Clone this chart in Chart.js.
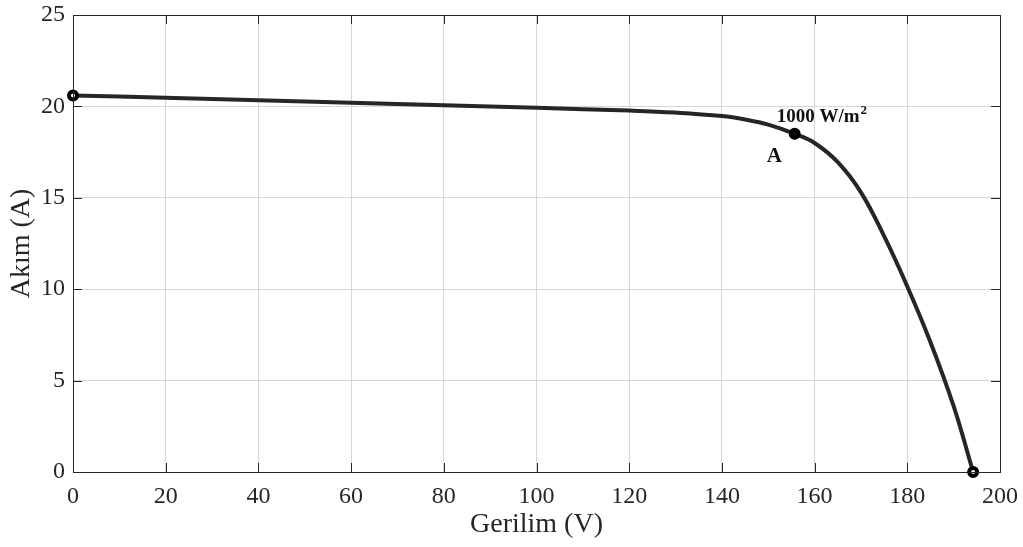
<!DOCTYPE html>
<html>
<head>
<meta charset="utf-8">
<script src="https://cdn.jsdelivr.net/npm/chart.js@4.4.1/dist/chart.umd.min.js"></script>
<style>
  html, body { margin: 0; padding: 0; background: #fff; }
  #wrap { width: 1023px; height: 547px; }
</style>
</head>
<body>
<div id="wrap"><canvas id="c" width="1023" height="547"></canvas></div>
<script>
// Data (Gerilim V, Akım A)
const voltage = [0, 20, 40, 60, 80, 100, 120, 130, 140, 145, 150, 155.7, 160, 165, 170, 175, 180, 185, 190, 194.2];
const current = [20.6, 20.47, 20.33, 20.2, 20.06, 19.92, 19.77, 19.66, 19.47, 19.28, 19.0, 18.5, 18.0, 16.95, 15.3, 12.9, 10.15, 7.1, 3.6, 0];
const markerV = [0, 155.7, 194.2];
const markerI = [20.6, 18.5, 0];
const markerFill = ['#ffffff', '#111111', '#ffffff'];
const xTicks = [0, 20, 40, 60, 80, 100, 120, 140, 160, 180, 200];
const yTicks = [0, 5, 10, 15, 20, 25];
const xTitle = 'Gerilim (V)';
const yTitle = 'Akım (A)';
const labelA = 'A';
const labelIrr = '1000 W/m';

const serif = '"Liberation Serif", "Times New Roman", serif';
const ink = '#262626';

const frame = {
  id: 'frame',
  afterDatasetsDraw(chart) {
    const { ctx, chartArea: a, scales } = chart;
    ctx.save();
    ctx.strokeStyle = ink;
    ctx.lineWidth = 1;
    ctx.strokeRect(Math.round(a.left) + 0.5, Math.round(a.top) + 0.5, Math.round(a.right - a.left), Math.round(a.bottom - a.top));
    ctx.beginPath();
    xTicks.forEach(v => {
      const x = Math.round(scales.x.getPixelForValue(v)) + 0.5;
      ctx.moveTo(x, a.bottom); ctx.lineTo(x, a.bottom - 9);
      ctx.moveTo(x, a.top); ctx.lineTo(x, a.top + 9);
    });
    yTicks.forEach(v => {
      const y = Math.round(scales.y.getPixelForValue(v)) + 0.5;
      ctx.moveTo(a.left, y); ctx.lineTo(a.left + 9, y);
      ctx.moveTo(a.right, y); ctx.lineTo(a.right - 9, y);
    });
    ctx.stroke();
    const px = scales.x.getPixelForValue(markerV[1]);
    const py = scales.y.getPixelForValue(markerI[1]);
    ctx.fillStyle = '#111';
    ctx.textAlign = 'left';
    ctx.textBaseline = 'alphabetic';
    ctx.font = 'bold 19px ' + serif;
    const tx = px - 18, ty = py - 12;
    ctx.fillText(labelIrr, tx, ty);
    const w = ctx.measureText(labelIrr).width;
    ctx.font = 'bold 13px ' + serif;
    ctx.fillText('2', tx + w + 1, ty - 8);
    ctx.font = 'bold 21px ' + serif;
    ctx.fillText(labelA, px - 28, py + 28);
    ctx.restore();
  }
};

const noPad = s => { s.paddingTop = 0; s.paddingRight = 0; s.paddingLeft = 0; s.paddingBottom = 0; };

new Chart(document.getElementById('c'), {
  type: 'scatter',
  data: {
    datasets: [
      {
        data: markerV.map((v, i) => ({ x: v, y: markerI[i] })),
        showLine: false,
        pointRadius: 4,
        pointBorderWidth: 4,
        pointBorderColor: '#000',
        pointBackgroundColor: markerFill,
        clip: false,
        order: 0
      },
      {
        data: voltage.map((v, i) => ({ x: v, y: current[i] })),
        showLine: true,
        borderColor: ink,
        borderWidth: 4,
        pointRadius: 0,
        tension: 0.4,
        fill: false,
        order: 1
      }
    ]
  },
  options: {
    responsive: false,
    animation: false,
    devicePixelRatio: 1,
    layout: { padding: { left: 0, top: 15, right: 23, bottom: 0 } },
    plugins: { legend: { display: false }, tooltip: { enabled: false } },
    scales: {
      x: {
        type: 'linear', min: 0, max: 200,
        afterBuildTicks: s => { s.ticks = xTicks.map(v => ({ value: v })); },
        afterFit: s => { s.height = 75; noPad(s); },
        grid: { color: '#d6d6d6', lineWidth: 1, tickLength: 0 },
        border: { display: false },
        ticks: { color: ink, font: { family: serif, size: 24 }, padding: 10, maxRotation: 0 },
        title: { display: true, text: xTitle, color: ink, font: { family: serif, size: 28 }, padding: { top: 0, bottom: 6 } }
      },
      y: {
        type: 'linear', min: 0, max: 25,
        afterBuildTicks: s => { s.ticks = yTicks.map(v => ({ value: v })); },
        afterFit: s => { s.width = 73; noPad(s); },
        grid: { color: '#d6d6d6', lineWidth: 1, tickLength: 0 },
        border: { display: false },
        ticks: { color: ink, font: { family: serif, size: 24 }, padding: 8 },
        title: { display: true, text: yTitle, color: ink, font: { family: serif, size: 28 }, padding: { top: 5, bottom: 0 } }
      }
    }
  },
  plugins: [frame]
});
</script>
</body>
</html>
